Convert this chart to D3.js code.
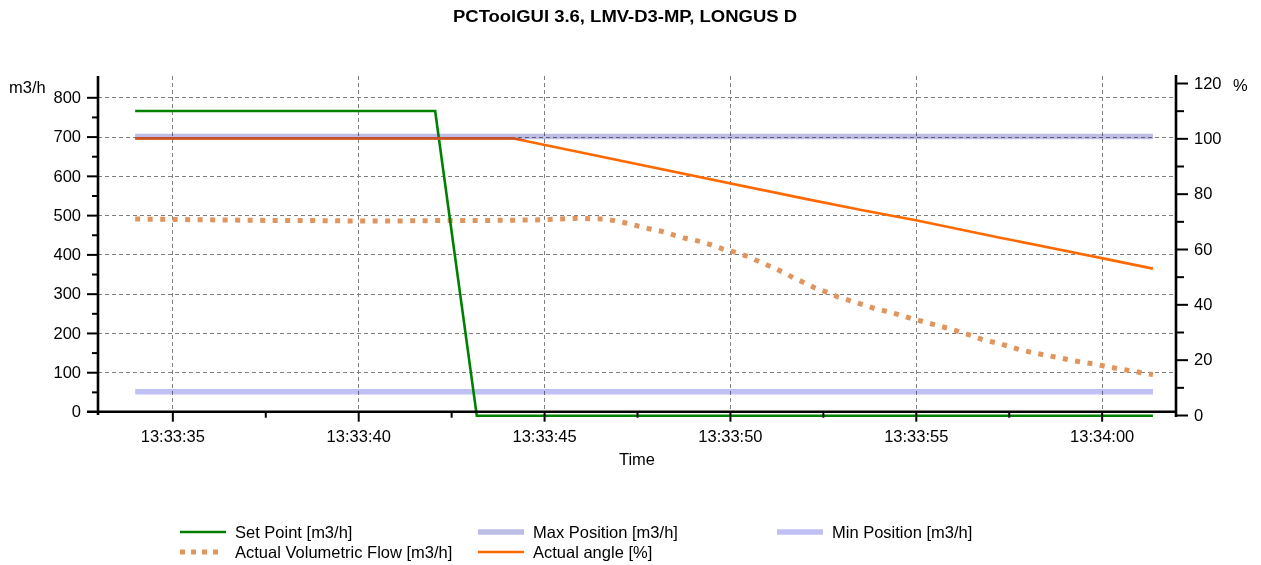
<!DOCTYPE html>
<html>
<head>
<meta charset="utf-8">
<script src="https://cdn.jsdelivr.net/npm/d3@7"></script>
<style>
  html, body { margin: 0; padding: 0; background: #fff; }
  svg { display: block; font-family: "Liberation Sans", Arial, sans-serif; }
  .series { fill: none; }
  .blend { mix-blend-mode: multiply; }
</style>
</head>
<body>
<svg id="chart" width="1261" height="565"></svg>
<script>
// ---- Data (time is given in seconds after 13:33:00) ----
const chartTitle = "PCToolGUI 3.6, LMV-D3-MP, LONGUS D";
const leftUnit = "m3/h";
const rightUnit = "%";
const timeLabel = "Time";

const leftTicks = [0, 100, 200, 300, 400, 500, 600, 700, 800];
const leftMinorTicks = [50, 150, 250, 350, 450, 550, 650, 750];
const rightTicks = [0, 20, 40, 60, 80, 100, 120];
const rightMinorTicks = [10, 30, 50, 70, 90, 110];
const timeTickSeconds = [35, 40, 45, 50, 55, 60];
const timeMinorTickSeconds = [37.5, 42.5, 47.5, 52.5, 57.5];

const setPointSeconds = [34.0, 42.07, 43.19, 61.38];
const setPointValues  = [765, 765, -11, -11];

const maxPositionSeconds = [34.0, 61.38];
const maxPositionValues  = [700, 700];

const minPositionSeconds = [34.0, 61.38];
const minPositionValues  = [50, 50];

const flowSeconds = [34.0, 35.0, 36.0, 37.0, 38.0, 39.0, 40.0, 41.0, 42.0, 43.0, 44.0, 44.9,
  45.9, 46.6, 46.9, 47.2, 47.5, 47.8, 48.2, 48.5, 48.8, 49.2, 49.5, 49.8, 50.2, 50.5, 50.8,
  51.1, 51.4, 51.7, 52.0, 52.3, 52.6, 52.9, 53.3, 53.6, 53.9, 54.3, 54.6, 54.9, 55.2, 55.5,
  55.9, 56.2, 56.5, 56.8, 57.2, 57.5, 57.8, 58.1, 58.5, 58.8, 59.1, 59.5, 59.8, 60.1, 60.5,
  60.8, 61.1, 61.38];
const flowValues = [490, 489, 488, 487, 486, 486, 485, 485, 486, 486, 487, 488,
  492, 490, 486, 480, 473, 466, 458, 449, 441, 433, 424, 414, 404, 394, 381,
  369, 356, 341, 328, 314, 304, 292, 280, 271, 262, 253, 245, 236, 229, 221,
  211, 202, 193, 183, 174, 166, 157, 151, 143, 138, 132, 125, 121, 115, 108,
  104, 98, 94];

const angleSeconds = [34.0, 44.15, 52.0, 53.5, 55.0, 57.3, 60.0, 61.38];
const angleValues  = [100, 100, 78.2, 74.2, 70.4, 64.0, 56.7, 52.9];

// ---- Helpers ----
const baseTime = new Date(2000, 0, 1, 13, 33, 0);
const at = s => new Date(baseTime.getTime() + s * 1000);
const pairs = (xs, ys) => xs.map((s, i) => ({ t: at(s), v: ys[i] }));

const svg = d3.select("#chart");

// ---- Scales ----
const x = d3.scaleTime().domain([at(33), at(62)]).range([98, 1176]);
const yL = d3.scaleLinear().domain([0, 800]).range([411.5, 97.3]);
const yR = d3.scaleLinear().domain([0, 120]).range([415, 83]);

const plotTop = 76;
const plotBottom = 411.7;

// ---- Grid ----
const grid = svg.append("g").attr("stroke", "#808080").attr("stroke-width", 1)
  .attr("stroke-dasharray", "4,3").attr("shape-rendering", "crispEdges");
grid.selectAll("line.h").data(leftTicks.filter(d => d > 0)).join("line")
  .attr("class", "h")
  .attr("x1", x.range()[0]).attr("x2", x.range()[1])
  .attr("y1", d => Math.round(yL(d)) + 0.5).attr("y2", d => Math.round(yL(d)) + 0.5);
grid.selectAll("line.v").data(timeTickSeconds).join("line")
  .attr("class", "v")
  .attr("x1", d => Math.round(x(at(d))) + 0.5).attr("x2", d => Math.round(x(at(d))) + 0.5)
  .attr("y1", plotTop).attr("y2", plotBottom);

// ---- Series ----
const series = [
  { name: "Set Point [m3/h]", data: pairs(setPointSeconds, setPointValues), y: yL,
    color: "#008000", width: 2.6, dash: null, legendDash: null, row: 0, col: 0 },
  { name: "Max Position [m3/h]", data: pairs(maxPositionSeconds, maxPositionValues), y: yL,
    color: "#bdbde6", width: 5.5, dash: null, legendDash: null, row: 0, col: 1, band: true },
  { name: "Min Position [m3/h]", data: pairs(minPositionSeconds, minPositionValues), y: yL,
    color: "#c0c0f4", width: 5.5, dash: null, legendDash: null, row: 0, col: 2, band: true },
  { name: "Actual Volumetric Flow [m3/h]", data: pairs(flowSeconds, flowValues), y: yL,
    color: "#e0955e", width: 5, dash: "5,7.5", legendDash: "5,6", legendLen: 38, row: 1, col: 0 },
  { name: "Actual angle [%]", data: pairs(angleSeconds, angleValues), y: yR,
    color: "#ff6a00", width: 2.6, dash: null, legendDash: null, row: 1, col: 1,
    overlapColor: "#c4502c" }
];

const seriesG = svg.append("g");
const lineFor = s => d3.line().x(d => x(d.t)).y(d => s.y(d.v))(s.data);

// Position bands first, blended so the grid shows through them
series.filter(s => s.band).forEach(s => {
  seriesG.append("path").attr("class", "series blend")
    .attr("d", lineFor(s)).attr("stroke", s.color).attr("stroke-width", s.width);
});

// Remaining series on top
[3, 0, 4].forEach(i => {
  const s = series[i];
  seriesG.append("path").attr("class", "series")
    .attr("d", lineFor(s))
    .attr("stroke", s.color)
    .attr("stroke-width", s.width)
    .attr("stroke-dasharray", s.dash);
});

// Where the angle line runs inside the max position band it takes a darker tone
const maxBand = series[1];
const bandY = yL(maxPositionValues[0]);
svg.append("defs").append("clipPath").attr("id", "maxBandClip")
  .append("rect")
  .attr("x", x(at(maxPositionSeconds[0])))
  .attr("width", x(at(maxPositionSeconds[1])) - x(at(maxPositionSeconds[0])))
  .attr("y", bandY - maxBand.width / 2 - 0.5)
  .attr("height", maxBand.width + 1);
seriesG.append("path").attr("class", "series")
  .attr("d", lineFor(series[4]))
  .attr("stroke", series[4].overlapColor)
  .attr("stroke-width", series[4].width)
  .attr("clip-path", "url(#maxBandClip)");

// ---- Axes ----
const fontSize = 16.5;

function styleAxis(g) {
  g.selectAll(".tick line").attr("stroke", "#000").attr("stroke-width", 2);
  g.selectAll(".tick text").attr("fill", "#000").attr("font-size", fontSize)
    .attr("font-family", '"Liberation Sans", Arial, sans-serif');
  g.select(".domain").remove();
}

// Left axis
const leftG = svg.append("g").attr("transform", "translate(98,0)");
leftG.append("g").call(d3.axisLeft(yL).tickValues(leftTicks).tickSize(11).tickPadding(6)).call(styleAxis);
leftG.append("g").call(d3.axisLeft(yL).tickValues(leftMinorTicks).tickSize(6).tickFormat("")).call(styleAxis);
leftG.append("line").attr("x1", 0).attr("x2", 0).attr("y1", plotTop).attr("y2", 415)
  .attr("stroke", "#000").attr("stroke-width", 2.6);

// Right axis
const rightG = svg.append("g").attr("transform", "translate(1176,0)");
rightG.append("g").call(d3.axisRight(yR).tickValues(rightTicks).tickSize(12).tickPadding(6)).call(styleAxis);
rightG.append("g").call(d3.axisRight(yR).tickValues(rightMinorTicks).tickSize(8).tickFormat("")).call(styleAxis);
rightG.append("line").attr("x1", 0).attr("x2", 0).attr("y1", 75).attr("y2", 417)
  .attr("stroke", "#000").attr("stroke-width", 2.6);

// Bottom axis
const bottomG = svg.append("g").attr("transform", `translate(0,${plotBottom})`);
bottomG.append("g").call(d3.axisBottom(x).tickValues(timeTickSeconds.map(at)).tickSize(10).tickPadding(9)
  .tickFormat(d3.timeFormat("%H:%M:%S"))).call(styleAxis);
bottomG.append("g").call(d3.axisBottom(x).tickValues(timeMinorTickSeconds.map(at)).tickSize(6).tickFormat("")).call(styleAxis);
bottomG.append("line").attr("x1", 87).attr("x2", 1176).attr("y1", 0).attr("y2", 0)
  .attr("stroke", "#000").attr("stroke-width", 2.6);

// ---- Texts ----
svg.append("text").attr("x", 625).attr("y", 22).attr("text-anchor", "middle")
  .attr("font-size", 16).attr("font-weight", "bold")
  .attr("textLength", 344).attr("lengthAdjust", "spacingAndGlyphs")
  .text(chartTitle);

svg.append("text").attr("x", 9).attr("y", 92.5).attr("font-size", fontSize).text(leftUnit);
svg.append("text").attr("x", 1233).attr("y", 91).attr("font-size", fontSize).text(rightUnit);
svg.append("text").attr("x", 637).attr("y", 465).attr("text-anchor", "middle")
  .attr("font-size", fontSize).text(timeLabel);

// ---- Legend ----
const legendCols = [180, 478, 777];
const legendRows = [532, 552];
const legend = svg.append("g");
series.forEach(s => {
  const lx = legendCols[s.col], ly = legendRows[s.row];
  legend.append("line")
    .attr("x1", lx).attr("x2", lx + (s.legendLen || 46))
    .attr("y1", ly).attr("y2", ly)
    .attr("stroke", s.color)
    .attr("stroke-width", s.width)
    .attr("stroke-dasharray", s.legendDash);
  legend.append("text")
    .attr("x", lx + 55).attr("y", ly).attr("dy", "0.35em")
    .attr("font-size", fontSize).text(s.name);
});
</script>
</body>
</html>
